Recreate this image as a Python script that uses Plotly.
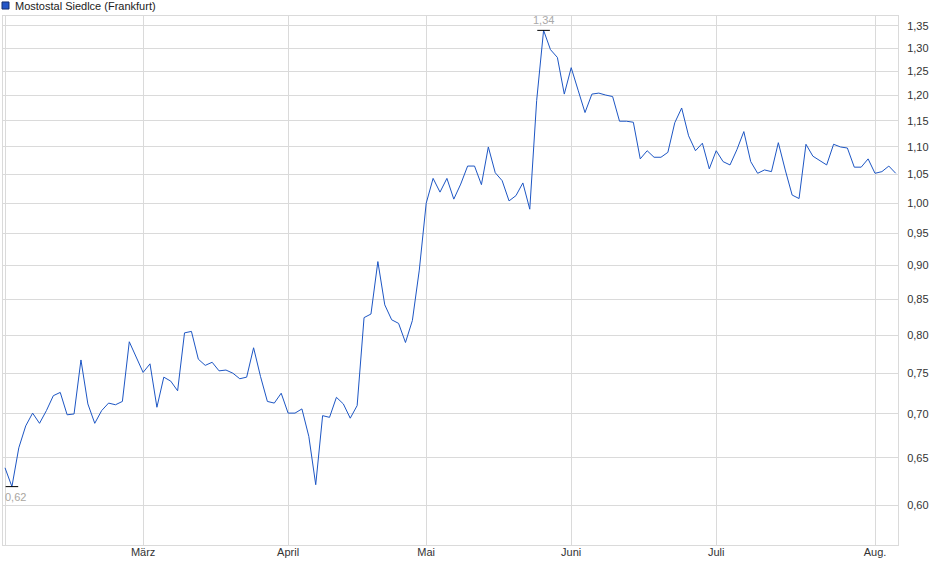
import math

import pandas as pd
import plotly.graph_objects as go

# Trading days on Frankfurt (weekdays without exchange holidays)
holidays = ["2025-04-18", "2025-04-21", "2025-05-01"]
dates = [
    d.strftime("%Y-%m-%d")
    for d in pd.bdate_range("2025-02-03", "2025-08-06")
    if d.strftime("%Y-%m-%d") not in holidays
]

prices = [
    # Feb
    0.639, 0.619, 0.661, 0.686, 0.701, 0.689, 0.704, 0.722, 0.726, 0.699,
    0.700, 0.767, 0.712, 0.689, 0.704, 0.713, 0.711, 0.715, 0.791, 0.771,
    # März
    0.751, 0.762, 0.708, 0.745, 0.740, 0.728, 0.803, 0.805, 0.768, 0.760,
    0.764, 0.753, 0.754, 0.750, 0.743, 0.745, 0.783, 0.746, 0.715, 0.713,
    0.725,
    # April
    0.701, 0.701, 0.706, 0.674, 0.621, 0.698, 0.696, 0.720, 0.712, 0.695,
    0.710, 0.824, 0.829, 0.906, 0.842, 0.821, 0.816, 0.790, 0.820, 0.893,
    # Mai
    1.000, 1.043, 1.019, 1.043, 1.007, 1.033, 1.065, 1.065, 1.032, 1.100,
    1.053, 1.039, 1.004, 1.013, 1.035, 0.990, 1.190, 1.340, 1.297, 1.280,
    1.203,
    # Juni
    1.258, 1.211, 1.166, 1.203, 1.205, 1.201, 1.198, 1.149, 1.149, 1.147,
    1.078, 1.093, 1.081, 1.081, 1.090, 1.146, 1.175, 1.121, 1.093, 1.107,
    1.060,
    # Juli
    1.093, 1.073, 1.067, 1.095, 1.129, 1.073, 1.052, 1.058, 1.055, 1.108,
    1.058, 1.014, 1.008, 1.105, 1.083, 1.075, 1.067, 1.105, 1.100, 1.098,
    1.063, 1.063, 1.078,
    # Aug.
    1.052, 1.055, 1.065, 1.052,
]

month_starts = ["2025-02-03", "2025-03-03", "2025-04-01", "2025-05-02",
                "2025-06-02", "2025-07-01", "2025-08-01"]
month_labels = ["", "März", "April", "Mai", "Juni", "Juli", "Aug."]

y_ticks = [0.60, 0.65, 0.70, 0.75, 0.80, 0.85, 0.90, 0.95, 1.00,
           1.05, 1.10, 1.15, 1.20, 1.25, 1.30, 1.35]

series_name = "Mostostal Siedlce (Frankfurt)"

LINE_COLOUR = "#1d56c4"
GRID_COLOUR = "#dadada"
FONT = "Arial, Liberation Sans, sans-serif"

i_min = prices.index(min(prices))
i_max = prices.index(max(prices))

fig = go.Figure()

fig.add_trace(
    go.Scatter(
        x = dates,
        y = prices,
        mode = "lines",
        line = dict(color = LINE_COLOUR, width = 1),
        showlegend = False,
        hoverinfo = "x+y",
    )
)

# little black bars at the low / high of the period
fig.add_trace(
    go.Scatter(
        x = [dates[i_min], dates[i_max]],
        y = [prices[i_min], prices[i_max]],
        mode = "markers",
        marker = dict(symbol = "line-ew", size = 9,
                      line = dict(color = "black", width = 1)),
        showlegend = False,
        hoverinfo = "skip",
        cliponaxis = False,
    )
)

def fmt(v):
    return f"{v:.2f}".replace(".", ",")

# log axis -> annotation y is given in log10 units
fig.add_annotation(x = dates[i_min], y = math.log10(prices[i_min]),
                   text = fmt(prices[i_min]),
                   showarrow = False, yshift = -10, xshift = 4,
                   font = dict(family = FONT, size = 11, color = "#aaa69f"))
fig.add_annotation(x = dates[i_max], y = math.log10(prices[i_max]),
                   text = fmt(prices[i_max]),
                   showarrow = False, yshift = 10,
                   font = dict(family = FONT, size = 11, color = "#a9a9a9"))

# legend: square + text
fig.add_shape(type = "rect", xref = "paper", yref = "paper",
              x0 = -0.0011, x1 = 0.0067, y0 = 1.0132, y1 = 1.0265,
              fillcolor = "#2456c8", line = dict(color = "#17306e", width = 1))
fig.add_annotation(xref = "paper", yref = "paper", x = 0.0115, y = 1.0195,
                   xanchor = "left", yanchor = "middle", showarrow = False,
                   text = series_name,
                   font = dict(family = FONT, size = 11, color = "#222222"))

fig.update_layout(
    width = 940,
    height = 579,
    margin = dict(l = 3, r = 42, t = 16, b = 34, autoexpand = False),
    plot_bgcolor = "white",
    paper_bgcolor = "white",
    separators = ",.",
    font = dict(family = FONT, size = 11, color = "#333333"),
    xaxis = dict(
        type = "category",
        range = [-0.29, 129.33],
        tickmode = "array",
        tickvals = month_starts,
        ticktext = month_labels,
        showgrid = True,
        gridcolor = GRID_COLOUR,
        gridwidth = 1,
        showline = True,
        mirror = True,
        linecolor = GRID_COLOUR,
        ticks = "",
        ticklabelstandoff = -3,
        zeroline = False,
        automargin = False,
        tickfont = dict(size = 11, color = "#333333"),
    ),
    yaxis = dict(
        type = "log",
        side = "right",
        range = [-0.25124, 0.13767],
        tickmode = "array",
        tickvals = y_ticks,
        tickformat = ".2f",
        showgrid = True,
        gridcolor = GRID_COLOUR,
        gridwidth = 1,
        showline = True,
        mirror = True,
        linecolor = GRID_COLOUR,
        ticks = "outside",
        ticklen = 6,
        tickcolor = "rgba(0,0,0,0)",
        zeroline = False,
        automargin = False,
        tickfont = dict(size = 11, color = "#333333"),
    ),
    hovermode = "closest",
)

# page body has a default 8px margin; drop it so the chart sits at 0,0
fig.write_html("out.html", config = {"displayModeBar": False},
               post_script = "document.body.style.margin = '0';")
